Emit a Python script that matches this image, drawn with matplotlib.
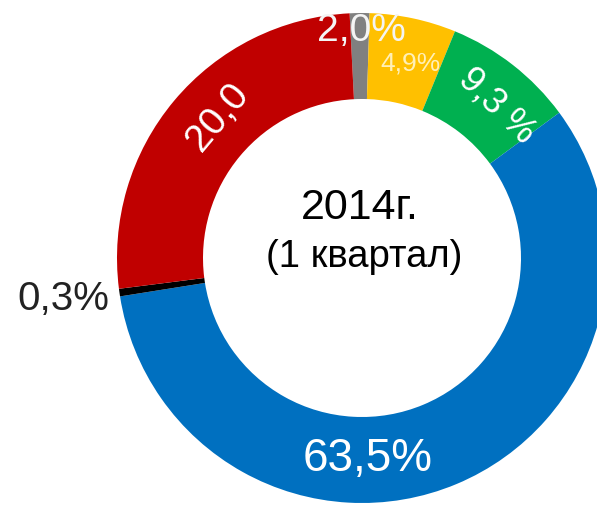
import matplotlib
matplotlib.use("Agg")
import matplotlib.pyplot as plt

# slice shares as drawn in the picture (clockwise from the top)
shares = [1.3, 5.7, 8.7, 57.6, 0.5, 26.2]
colors = ['#808080', '#FFC000', '#00B050', '#0070C0', '#000000', '#C00000']

# labels printed on the chart
labels = ['2,0%', '4,9%', '9,3 %', '63,5%', '0,3%', '20,0']
title_year = u'2014г.'
title_period = u'(1 квартал)'

W, H = 597, 506
CX, CY = 362, H - 259
R_OUT, RING = 245, 86

plt.rcParams['font.family'] = ['Liberation Sans', 'DejaVu Sans']

fig = plt.figure(figsize=(W / 100.0, H / 100.0), dpi=100)
ax = fig.add_axes([0, 0, 1, 1])

ax.pie(shares, colors=colors, startangle=92.9, counterclock=False,
       center=(CX, CY), radius=R_OUT,
       wedgeprops=dict(width=RING, linewidth=0))

ax.set_xlim(0, W)
ax.set_ylim(0, H)
ax.set_aspect('equal')
ax.axis('off')

# label positions (pixel coords, top-left origin), size, colour, rotation
label_style = [
    ((361, 31), 28, '#F4F4F4', 0),
    ((410, 63), 19, '#FFF0B8', 0),
    ((497, 106), 26, 'white', -44),
    ((368, 459), 33, 'white', 0),
    ((63, 299), 29, '#222222', 0),
    ((218, 117), 28, 'white', 50),
]
for text, ((x, y), size, col, rot) in zip(labels, label_style):
    ax.text(x, H - y, text, fontsize=size, color=col, rotation=rot,
            ha='center', va='center', rotation_mode='anchor')

ax.text(360, H - 208, title_year, fontsize=31, color='black',
        ha='center', va='center')
ax.text(364, H - 257, title_period, fontsize=27.5, color='black',
        ha='center', va='center')

fig.savefig('out.png', dpi=100)
